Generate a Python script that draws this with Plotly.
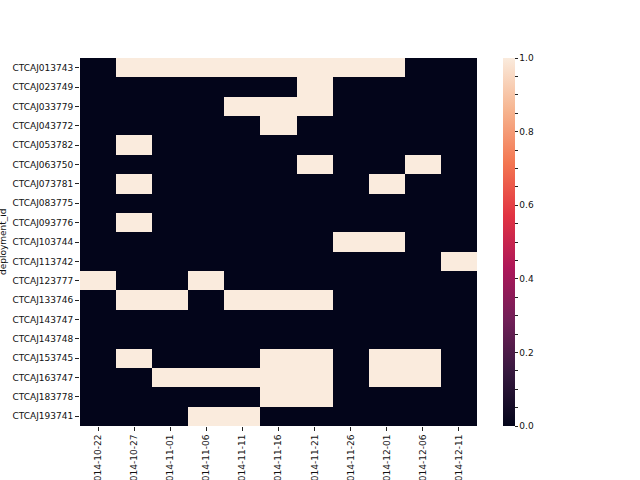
import plotly.graph_objects as go

deployment_ids = ["CTCAJ013743", "CTCAJ023749", "CTCAJ033779", "CTCAJ043772", "CTCAJ053782",
                  "CTCAJ063750", "CTCAJ073781", "CTCAJ083775", "CTCAJ093776", "CTCAJ103744",
                  "CTCAJ113742", "CTCAJ123777", "CTCAJ133746", "CTCAJ143747", "CTCAJ143748",
                  "CTCAJ153745", "CTCAJ163747", "CTCAJ183778", "CTCAJ193741"]
dates = ["2014-10-22", "2014-10-27", "2014-11-01", "2014-11-06", "2014-11-11", "2014-11-16",
         "2014-11-21", "2014-11-26", "2014-12-01", "2014-12-06", "2014-12-11"]

r_013743 = [0, 1, 1, 1, 1, 1, 1, 1, 1, 0, 0]
r_023749 = [0, 0, 0, 0, 0, 0, 1, 0, 0, 0, 0]
r_033779 = [0, 0, 0, 0, 1, 1, 1, 0, 0, 0, 0]
r_043772 = [0, 0, 0, 0, 0, 1, 0, 0, 0, 0, 0]
r_053782 = [0, 1, 0, 0, 0, 0, 0, 0, 0, 0, 0]
r_063750 = [0, 0, 0, 0, 0, 0, 1, 0, 0, 1, 0]
r_073781 = [0, 1, 0, 0, 0, 0, 0, 0, 1, 0, 0]
r_083775 = [0, 0, 0, 0, 0, 0, 0, 0, 0, 0, 0]
r_093776 = [0, 1, 0, 0, 0, 0, 0, 0, 0, 0, 0]
r_103744 = [0, 0, 0, 0, 0, 0, 0, 1, 1, 0, 0]
r_113742 = [0, 0, 0, 0, 0, 0, 0, 0, 0, 0, 1]
r_123777 = [1, 0, 0, 1, 0, 0, 0, 0, 0, 0, 0]
r_133746 = [0, 1, 1, 0, 1, 1, 1, 0, 0, 0, 0]
r_143747 = [0, 0, 0, 0, 0, 0, 0, 0, 0, 0, 0]
r_143748 = [0, 0, 0, 0, 0, 0, 0, 0, 0, 0, 0]
r_153745 = [0, 1, 0, 0, 0, 1, 1, 0, 1, 1, 0]
r_163747 = [0, 0, 1, 1, 1, 1, 1, 0, 1, 1, 0]
r_183778 = [0, 0, 0, 0, 0, 1, 1, 0, 0, 0, 0]
r_193741 = [0, 0, 0, 1, 1, 0, 0, 0, 0, 0, 0]

z = [r_013743, r_023749, r_033779, r_043772, r_053782, r_063750, r_073781, r_083775,
     r_093776, r_103744, r_113742, r_123777, r_133746, r_143747, r_143748, r_153745,
     r_163747, r_183778, r_193741]

rocket = [
    [0.0, "#03051a"],
    [0.143, "#35193e"],
    [0.286, "#701f57"],
    [0.429, "#ad1759"],
    [0.571, "#e13342"],
    [0.714, "#f37651"],
    [0.857, "#f6b48f"],
    [1.0, "#faebdd"],
]

cb_vals = [i * 0.05 for i in range(21)]
cb_text = [("%.1f" % v) if i % 4 == 0 else "" for i, v in enumerate(cb_vals)]

L, R, T, B = 80, 477, 58, 426
W, H = 640, 480
pw = R - L

fig = go.Figure(go.Heatmap(
    z=z, x=dates, y=deployment_ids,
    colorscale=rocket, zmin=0, zmax=1, xgap=0, ygap=0,
    colorbar=dict(
        x=(503 - L) / pw, xanchor="left", xref="paper",
        y=0.5, yanchor="middle", len=1, lenmode="fraction",
        xpad=0, ypad=0,
        thickness=12, thicknessmode="pixels", outlinewidth=0,
        tickmode="array", tickvals=cb_vals, ticktext=cb_text,
        ticks="outside", ticklen=3, tickcolor="#222", tickwidth=1,
        tickfont=dict(size=9, color="#111", family="DejaVu Sans"),
    ),
))

fig.update_layout(
    template="none",
    width=W, height=H,
    margin=dict(l=L, r=W - R, t=T, b=H - B, pad=0),
    paper_bgcolor="white", plot_bgcolor="white",
    font=dict(family="DejaVu Sans", size=9, color="#111"),
    xaxis=dict(type="category", automargin=False, showgrid=False, zeroline=False,
               showline=False, ticks="outside", ticklen=4, tickcolor="#222",
               tickangle=-90, tickfont=dict(size=9), fixedrange=True),
    yaxis=dict(type="category", autorange="reversed", automargin=False, showgrid=False,
               zeroline=False, showline=False, ticks="outside", ticklen=4,
               tickcolor="#222", tickfont=dict(size=9), fixedrange=True),
    annotations=[dict(text="deployment_id", textangle=-90, xref="paper", yref="paper",
                      x=(3 - L) / pw, y=0.5, xanchor="center", yanchor="middle",
                      showarrow=False, font=dict(size=9, color="#111"))],
)

fig.write_html("out.html")
